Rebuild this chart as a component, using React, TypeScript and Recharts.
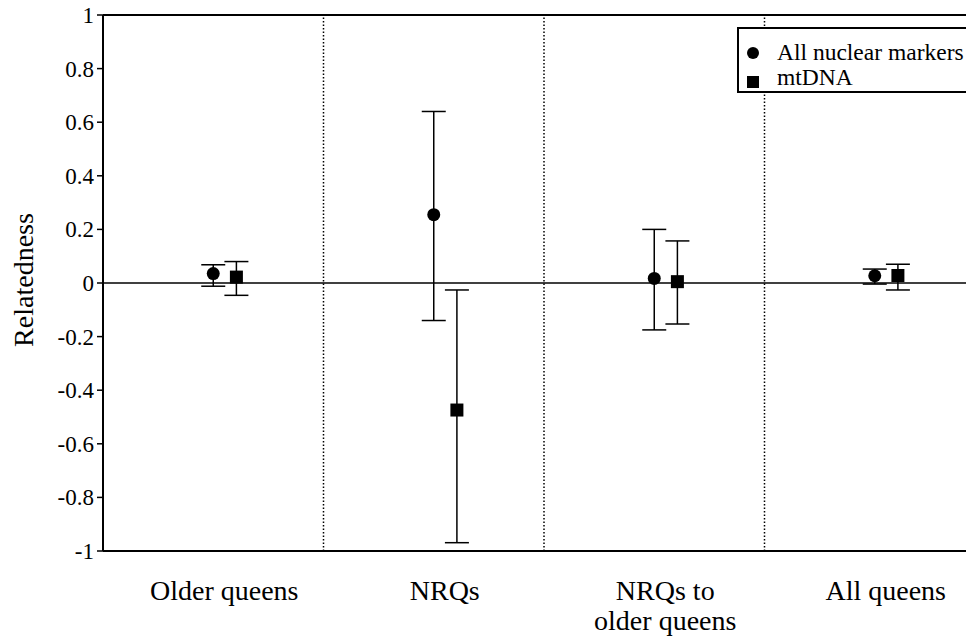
import React from 'react';
import {
  ScatterChart,
  Scatter,
  XAxis,
  YAxis,
  ErrorBar,
  ReferenceLine,
  Legend,
} from 'recharts';

const categories: string[][] = [
  ['Older queens'],
  ['NRQs'],
  ['NRQs to', 'older queens'],
  ['All queens'],
];

const nuclearMean = [0.035, 0.255, 0.017, 0.027];
const nuclearLow = [-0.012, -0.14, -0.175, -0.004];
const nuclearHigh = [0.068, 0.64, 0.2, 0.052];

const mtMean = [0.022, -0.474, 0.005, 0.028];
const mtLow = [-0.046, -0.969, -0.153, -0.026];
const mtHigh = [0.08, -0.026, 0.157, 0.07];

const yTicks = [-1, -0.8, -0.6, -0.4, -0.2, 0, 0.2, 0.4, 0.6, 0.8, 1];
const yTickLabels = ['-1', '-0.8', '-0.6', '-0.4', '-0.2', '0', '0.2', '0.4', '0.6', '0.8', '1'];

const SQUARE_SHIFT = 0.105;
const FONT = '"Liberation Serif", "Times New Roman", serif';

const nuclearData = nuclearMean.map((v, i) => ({
  x: i + 0.5,
  y: v,
  err: [v - nuclearLow[i], nuclearHigh[i] - v],
}));
const mtData = mtMean.map((v, i) => ({
  x: i + 0.5 + SQUARE_SHIFT,
  y: v,
  err: [v - mtLow[i], mtHigh[i] - v],
}));

const CircleShape = (props: any) => {
  const { cx, cy } = props;
  if (cx == null || cy == null) return null;
  return <circle cx={cx} cy={cy} r={6.5} fill="#000" />;
};
const SquareShape = (props: any) => {
  const { cx, cy } = props;
  if (cx == null || cy == null) return null;
  return <rect x={cx - 6.5} y={cy - 6.5} width={13} height={13} fill="#000" />;
};

const XTick = (props: any) => {
  const { x, y, payload } = props;
  const idx = Math.round(payload.value - 0.5);
  const lines = categories[idx] || [];
  return (
    <text x={x + 11} y={y} textAnchor="middle" fontFamily={FONT} fontSize={28} fill="#000">
      {lines.map((l, k) => (
        <tspan key={k} x={x + 11} y={y + 41 + k * 30}>
          {l}
        </tspan>
      ))}
    </text>
  );
};

const YTick = (props: any) => {
  const { x, y, payload } = props;
  const idx = yTicks.indexOf(payload.value);
  const label = idx >= 0 ? yTickLabels[idx] : String(payload.value);
  return (
    <text x={x - 1} y={y} dy={8} textAnchor="end" fontFamily={FONT} fontSize={23} fill="#000">
      {label}
    </text>
  );
};

const LegendContent = () => (
  <div
    style={{
      width: 234,
      height: 66,
      boxSizing: 'border-box',
      border: '2px solid #000',
      background: '#fff',
      position: 'relative',
    }}
  >
    <svg width={234} height={66} style={{ position: 'absolute', left: -2, top: -2 }}>
      <circle cx={16} cy={26} r={6} fill="#000" />
      <rect x={10} y={49} width={12} height={12} fill="#000" />
      <text x={40} y={33} fontFamily={FONT} fontSize={23.5} fill="#000">
        All nuclear markers
      </text>
      <text x={40} y={58} fontFamily={FONT} fontSize={23.5} fill="#000">
        mtDNA
      </text>
    </svg>
  </div>
);

export default function App() {
  return (
    <div style={{ width: 974, height: 636, overflow: 'hidden', margin: '-8px 0 0 -8px' }}>
      <ScatterChart width={985} height={636} margin={{ top: 15, right: 0, bottom: 0, left: 0 }}>
        <XAxis
          type="number"
          dataKey="x"
          domain={[0, 4]}
          ticks={[0.5, 1.5, 2.5, 3.5]}
          tick={<XTick />}
          tickLine={false}
          axisLine={{ stroke: '#000', strokeWidth: 2 }}
          height={85}
          interval={0}
        />
        <YAxis
          type="number"
          dataKey="y"
          domain={[-1, 1]}
          ticks={yTicks}
          interval={0}
          width={103}
          axisLine={{ stroke: '#000', strokeWidth: 2 }}
          tickLine={{ stroke: '#000', strokeWidth: 1.5 }}
          tickSize={6}
          tick={<YTick />}
          label={{
            content: (p: any) => {
              const vb = p.viewBox || {};
              const cy = (vb.y ?? 15) + (vb.height ?? 536) / 2 - 3;
              return (
                <text
                  x={33}
                  y={cy}
                  transform={`rotate(-90, 33, ${cy})`}
                  textAnchor="middle"
                  fontFamily={FONT}
                  fontSize={28}
                  fill="#000"
                >
                  Relatedness
                </text>
              );
            },
          }}
        />
        <ReferenceLine y={1} stroke="#000" strokeWidth={2} ifOverflow="visible" />
        <ReferenceLine y={0} stroke="#000" strokeWidth={1.5} />
        {[1, 2, 3].map((v) => (
          <ReferenceLine key={v} x={v} stroke="#000" strokeWidth={1.5} strokeDasharray="1.5 2" />
        ))}
        <Legend
          layout="vertical"
          verticalAlign="middle"
          align="center"
          content={<LegendContent />}
          wrapperStyle={{ position: 'absolute', top: 27, left: 737, width: 234, height: 66 }}
        />
        <Scatter name="All nuclear markers" data={nuclearData} shape={<CircleShape />} isAnimationActive={false}>
          <ErrorBar dataKey="err" direction="y" width={12} stroke="#000" strokeWidth={1.5} />
        </Scatter>
        <Scatter name="mtDNA" data={mtData} shape={<SquareShape />} isAnimationActive={false}>
          <ErrorBar dataKey="err" direction="y" width={12} stroke="#000" strokeWidth={1.5} />
        </Scatter>
      </ScatterChart>
    </div>
  );
}
